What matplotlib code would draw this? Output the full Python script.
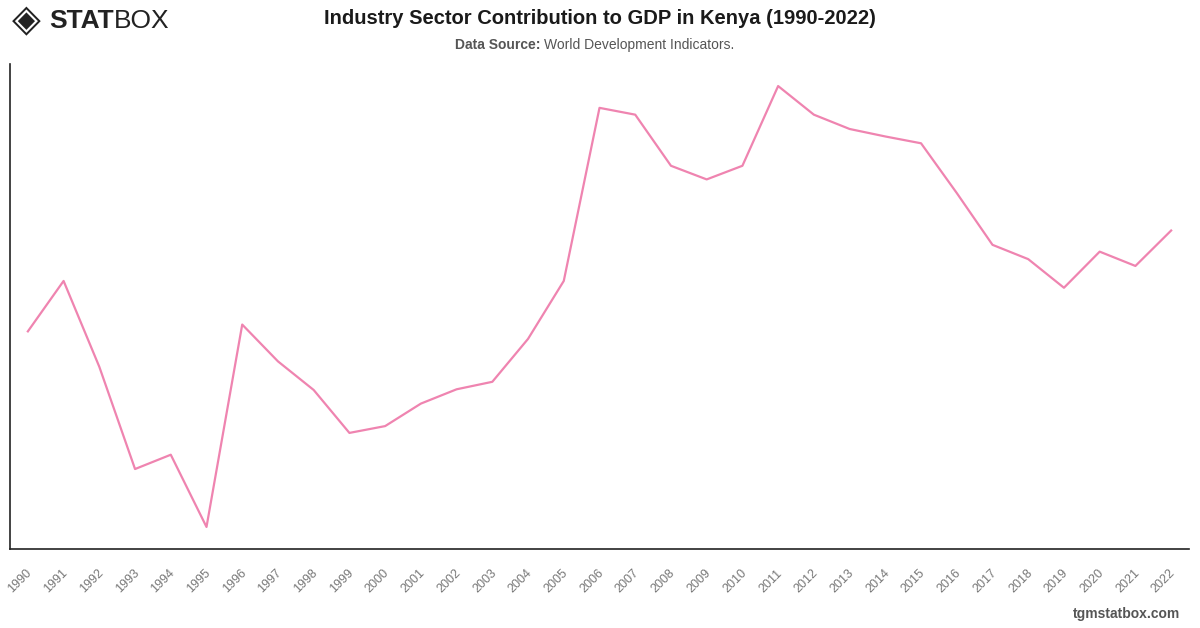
#!/usr/bin/env python3

"""
Industry sector contribution to GDP in Kenya, 1990-2022.
"""

import matplotlib
matplotlib.use("Agg")
import matplotlib.pyplot as plt
import matplotlib.transforms as mtransforms

plt.rcParams["font.family"] = ["Liberation Sans", "DejaVu Sans"]

years = list(range(1990, 2023))
# industry, value added (% of GDP)
industry_pct = [18.40, 19.14, 17.88, 16.38, 16.59, 15.53, 18.50, 17.96, 17.54, 16.91,
                17.01, 17.34, 17.55, 17.66, 18.29, 19.14, 21.68, 21.58, 20.83, 20.63,
                20.83, 22.00, 21.58, 21.37, 21.26, 21.16, 20.43, 19.67, 19.46, 19.04,
                19.57, 19.36, 19.88]

line_color = "#ef84b0"

fig = plt.figure(figsize=(12, 6.28), dpi=100)
ax = fig.add_axes([10 / 1200, 1 - 549 / 628, 1179 / 1200, 485 / 628])

x = list(range(len(years)))
ax.plot(x, industry_pct, color=line_color, linewidth=1.6)
ax.set_xlim(-0.5, len(years) - 0.5)
ax.margins(y=0.05)

ax.set_xticks(x)
ax.set_xticklabels([str(y) for y in years], rotation=45, ha="right",
                   rotation_mode="anchor", fontsize=9, color="#777777")
ax.tick_params(axis="x", length=0, pad=8)
ax.set_yticks([])
# nudge the rotated labels down a bit
shift = mtransforms.ScaledTranslation(-2 / 100, -7 / 100, fig.dpi_scale_trans)
for lbl in ax.get_xticklabels():
    lbl.set_transform(lbl.get_transform() + shift)

for side in ["top", "right"]:
    ax.spines[side].set_visible(False)
for side in ["left", "bottom"]:
    ax.spines[side].set_color("#222222")
    ax.spines[side].set_linewidth(1.2)

# header
fig.text(0.5, 1 - 18 / 628, "Industry Sector Contribution to GDP in Kenya (1990-2022)",
         ha="center", va="center", fontsize=14.5, fontweight="bold", color="#1a1a1a")
sub_bold = fig.text(455 / 1200, 1 - 45 / 628, "Data Source:", ha="left", va="center",
                    fontsize=10, fontweight="bold", color="#555555")
fig.canvas.draw()
bb = sub_bold.get_window_extent()
fig.text((bb.x1 + 4) / 1200, 1 - 45 / 628, "World Development Indicators.",
         ha="left", va="center", fontsize=10, color="#555555")

# logo
fig.text(12 / 1200, 1 - 21 / 628, "\u25C8", ha="left", va="center", fontsize=27,
         color="#222222", family="DejaVu Sans")
stat = fig.text(49 / 1200, 1 - 21 / 628, "STAT", ha="left", va="center", fontsize=19,
                fontweight="heavy", color="#222222")
fig.canvas.draw()
sb = stat.get_window_extent()
fig.text(sb.x1 / 1200, 1 - 21 / 628, "BOX", ha="left", va="center", fontsize=19,
         color="#222222")

# footer
fig.text(1180 / 1200, 1 - 614 / 628, "tgmstatbox.com", ha="right", va="center",
         fontsize=10, fontweight="bold", color="#555555")

fig.savefig("out.png", dpi=100, facecolor="white")
